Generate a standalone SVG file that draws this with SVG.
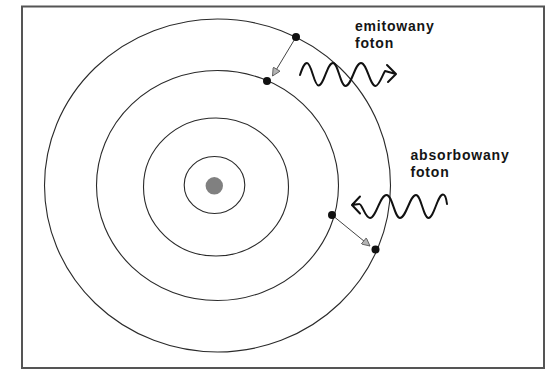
<svg xmlns="http://www.w3.org/2000/svg" width="548" height="369" viewBox="0 0 548 369">
<defs>
<style>
.orbit{fill:none;stroke:#2a2a2a;stroke-width:1.1}
.e{fill:#111}
.lbl{font-family:"Liberation Sans",Arial,sans-serif;font-weight:bold;font-size:14px;letter-spacing:0.8px;fill:#151515}
.tr{stroke:#444;stroke-width:1;fill:none}
.wave{stroke:#111;stroke-width:2;fill:none;stroke-linejoin:round;stroke-linecap:round}
</style>
<marker id="ah" viewBox="0 0 10 10" refX="10" refY="5" markerWidth="10" markerHeight="8" orient="auto" markerUnits="userSpaceOnUse">
<path d="M0,0 L10,5 L0,10 z" fill="#b4b4b4" stroke="#555" stroke-width="1"/>
</marker>
</defs>
<rect width="548" height="369" fill="#fff"/>
<rect id="frame" x="22" y="6.5" width="522" height="361.5" fill="none" stroke="#555" stroke-width="2"/>
<g id="orbit4"><ellipse class="orbit" cx="217.5" cy="185.5" rx="173" ry="166.5"/></g>
<g id="orbit3"><ellipse class="orbit" cx="217.5" cy="185.5" rx="121" ry="115"/></g>
<g id="orbit2"><ellipse class="orbit" cx="216" cy="187" rx="72.5" ry="69"/></g>
<g id="orbit1"><ellipse class="orbit" cx="214.5" cy="185" rx="30.3" ry="28.5"/></g>
<g id="nucleus"><circle cx="214.3" cy="185.8" r="8.7" fill="#808080"/></g>
<g id="connectors">
<line class="tr" x1="296" y1="37" x2="272.5" y2="76" marker-end="url(#ah)"/>
<line class="tr" x1="332" y1="215" x2="370" y2="246" marker-end="url(#ah)"/>
<path class="wave" d="M300,75 C302,69 304,63 307,63 C311.5,63 314,85.5 318.5,85.5 C324,85.5 327,63 333,63 C338,63 340.5,86 345.5,86 C351.5,86 355,63 361,63 C367,63 370,86 375.5,86 C379,86 382,76 385,71 L396,74 M387,65 L396,74 L388,82"/>
<path class="wave" d="M352,205 L359,204 C362,203 365,218 370,218 C376,218 380,195 386.5,195 C392.5,195 394.5,218 400,218 C406,218 410,195 416,195 C421,195 423.5,218 428.5,218 C434,218 437.5,194.5 443,194.5 C445,194.5 446.5,200 447,204 M360,196.5 L352,205 L360,213.5"/>
</g>
<g id="electron-emit-high"><circle class="e" cx="296" cy="37" r="4"/></g>
<g id="electron-emit-low"><circle class="e" cx="267" cy="81" r="4"/></g>
<g id="electron-abs-low"><circle class="e" cx="332" cy="215" r="4"/></g>
<g id="electron-abs-high"><circle class="e" cx="375.5" cy="249.5" r="4"/></g>
<g id="label-emit"><text class="lbl" x="355" y="30.5">emitowany</text><text class="lbl" x="355" y="47.5">foton</text></g>
<g id="label-abs"><text class="lbl" x="410.5" y="160">absorbowany</text><text class="lbl" x="410.5" y="177">foton</text></g>
</svg>
